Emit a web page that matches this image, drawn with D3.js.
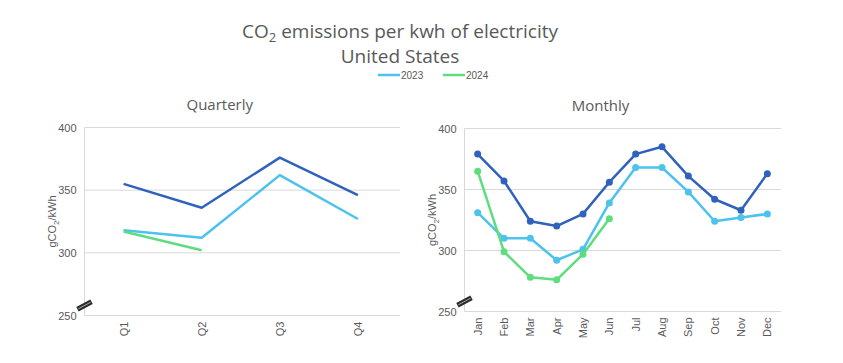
<!DOCTYPE html>
<html>
<head>
<meta charset="utf-8">
<script src="https://cdn.jsdelivr.net/npm/d3@7"></script>
<style>
  body { margin: 0; background: #fff; }
  svg { display: block; }
</style>
</head>
<body>
<svg id="chart" width="843" height="363"></svg>
<script>
// quarterly figures (gCO2/kWh)
var quarters = ["Q1", "Q2", "Q3", "Q4"];
var q2022 = [355, 336, 376, 346];
var q2023 = [318, 312, 362, 327];
var q2024 = [317, 302];

// monthly figures (gCO2/kWh)
var months = ["Jan", "Feb", "Mar", "Apr", "May", "Jun", "Jul", "Aug", "Sep", "Oct", "Nov", "Dec"];
var m2022 = [379, 357, 324, 320, 330, 356, 379, 385, 361, 342, 333, 363];
var m2023 = [331, 310, 310, 292, 301, 339, 368, 368, 348, 324, 327, 330];
var m2024 = [365, 299, 278, 276, 297, 326];

var yTicks = [250, 300, 350, 400];
var legendYears = ["2023", "2024"];

var colors = { y2022: "#3062bd", y2023: "#4cc2ec", y2024: "#5edd7e" };
var textColor = "#595959";
var gridColor = "#d9d9d9";

var svg = d3.select("#chart");

// titles
var title = svg.append("text")
    .attr("x", 400).attr("y", 38)
    .attr("text-anchor", "middle")
    .style("font-family", "'Open Sans', sans-serif")
    .style("font-size", "19px")
    .attr("fill", textColor);
title.append("tspan").text("CO");
title.append("tspan").attr("dy", 4).style("font-size", "13px").text("2");
title.append("tspan").attr("dy", -4).text(" emissions per kwh of electricity");

svg.append("text")
    .attr("x", 400).attr("y", 63)
    .attr("text-anchor", "middle")
    .style("font-family", "'Open Sans', sans-serif")
    .style("font-size", "19px")
    .attr("fill", textColor)
    .text("United States");

// legend
var legend = svg.selectAll("g.legend")
    .data(legendYears)
    .enter().append("g")
    .attr("class", "legend")
    .attr("transform", function(d, i) { return "translate(" + (378 + i * 65) + ",79)"; });

legend.append("line")
    .attr("x1", 0).attr("x2", 22)
    .attr("y1", -4).attr("y2", -4)
    .attr("stroke", function(d) { return d === "2023" ? colors.y2023 : colors.y2024; })
    .attr("stroke-width", 2.5);

legend.append("text")
    .attr("x", 23).attr("y", 0)
    .style("font-family", "'Liberation Sans', Arial, sans-serif")
    .style("font-size", "10px")
    .attr("fill", textColor)
    .text(function(d) { return d; });

function drawPanel(opts) {
    var g = svg.append("g");

    var x = d3.scaleBand()
        .domain(opts.categories)
        .range([opts.left, opts.right]);

    var y = d3.scaleLinear()
        .domain([250, 400])
        .range([opts.bottom, opts.top]);

    var cx = function(d, i) { return x(opts.categories[i]) + x.bandwidth() / 2; };

    // panel title
    g.append("text")
        .attr("x", (opts.left + opts.right) / 2 + opts.titleShift)
        .attr("y", opts.top - 18)
        .attr("text-anchor", "middle")
        .style("font-family", "'Open Sans', sans-serif")
        .style("font-size", "15px")
        .attr("fill", textColor)
        .text(opts.title);

    // gridlines
    g.selectAll("line.grid")
        .data(yTicks)
        .enter().append("line")
        .attr("class", "grid")
        .attr("x1", opts.left).attr("x2", opts.gridEnd)
        .attr("y1", function(d) { return y(d); })
        .attr("y2", function(d) { return y(d); })
        .attr("stroke", gridColor)
        .attr("stroke-width", 1);

    // left axis line
    g.append("line")
        .attr("x1", opts.left).attr("x2", opts.left)
        .attr("y1", y(400)).attr("y2", y(250))
        .attr("stroke", gridColor);

    // y tick labels
    g.selectAll("text.ytick")
        .data(yTicks)
        .enter().append("text")
        .attr("class", "ytick")
        .attr("x", opts.left - 8)
        .attr("y", function(d) { return y(d) + 4; })
        .attr("text-anchor", "end")
        .style("font-family", "'Liberation Sans', Arial, sans-serif")
        .style("font-size", "11px")
        .attr("fill", textColor)
        .text(function(d) { return d; });

    // y axis title
    var yt = g.append("text")
        .attr("transform", "translate(" + (opts.left - 29) + "," + ((opts.top + opts.bottom) / 2) + ") rotate(-90)")
        .attr("text-anchor", "middle")
        .style("font-family", "'Liberation Sans', Arial, sans-serif")
        .style("font-size", "11px")
        .attr("fill", textColor);
    yt.append("tspan").text("gCO");
    yt.append("tspan").attr("dy", 3).style("font-size", "8px").text("2");
    yt.append("tspan").attr("dy", -3).text("/kWh");

    // x tick labels
    g.selectAll("text.xtick")
        .data(opts.categories)
        .enter().append("text")
        .attr("class", "xtick")
        .attr("transform", function(d) {
            return "translate(" + (x(d) + x.bandwidth() / 2 + 4) + "," + (opts.bottom + 6) + ") rotate(-90)";
        })
        .attr("text-anchor", "end")
        .style("font-family", "'Liberation Sans', Arial, sans-serif")
        .style("font-size", "11px")
        .attr("fill", textColor)
        .text(function(d) { return d; });

    // axis break mark
    var brk = g.append("g")
        .attr("transform", "translate(" + (opts.left) + "," + (opts.bottom - 10) + ") rotate(-28)");
    brk.append("rect")
        .attr("x", -8).attr("y", -2.5)
        .attr("width", 16).attr("height", 5)
        .attr("fill", "#2b2b2b");
    brk.append("line")
        .attr("x1", -7).attr("x2", 7)
        .attr("y1", 0).attr("y2", 0)
        .attr("stroke", "#bbb").attr("stroke-width", 0.8);

    // series lines
    var line = d3.line()
        .x(function(d, i) { return cx(d, i); })
        .y(function(d) { return y(d); });

    opts.series.forEach(function(s) {
        g.append("path")
            .datum(s.values)
            .attr("d", line)
            .attr("fill", "none")
            .attr("stroke", s.color)
            .attr("stroke-width", 2.5)
            .attr("stroke-linejoin", "round");

        if (opts.markers) {
            g.selectAll(null)
                .data(s.values)
                .enter().append("circle")
                .attr("cx", function(d, i) { return cx(d, i); })
                .attr("cy", function(d) { return y(d); })
                .attr("r", 3.5)
                .attr("fill", s.color);
        }
    });
}

drawPanel({
    title: "Quarterly",
    categories: quarters,
    left: 84.5, right: 397, gridEnd: 400,
    top: 127.5, bottom: 315.5,
    titleShift: -21,
    markers: false,
    series: [
        { values: q2022, color: colors.y2022 },
        { values: q2023, color: colors.y2023 },
        { values: q2024, color: colors.y2024 }
    ]
});

drawPanel({
    title: "Monthly",
    categories: months,
    left: 464.5, right: 780.5, gridEnd: 781,
    top: 128.5, bottom: 311.5,
    titleShift: -22,
    markers: true,
    series: [
        { values: m2022, color: colors.y2022 },
        { values: m2023, color: colors.y2023 },
        { values: m2024, color: colors.y2024 }
    ]
});
</script>
</body>
</html>
